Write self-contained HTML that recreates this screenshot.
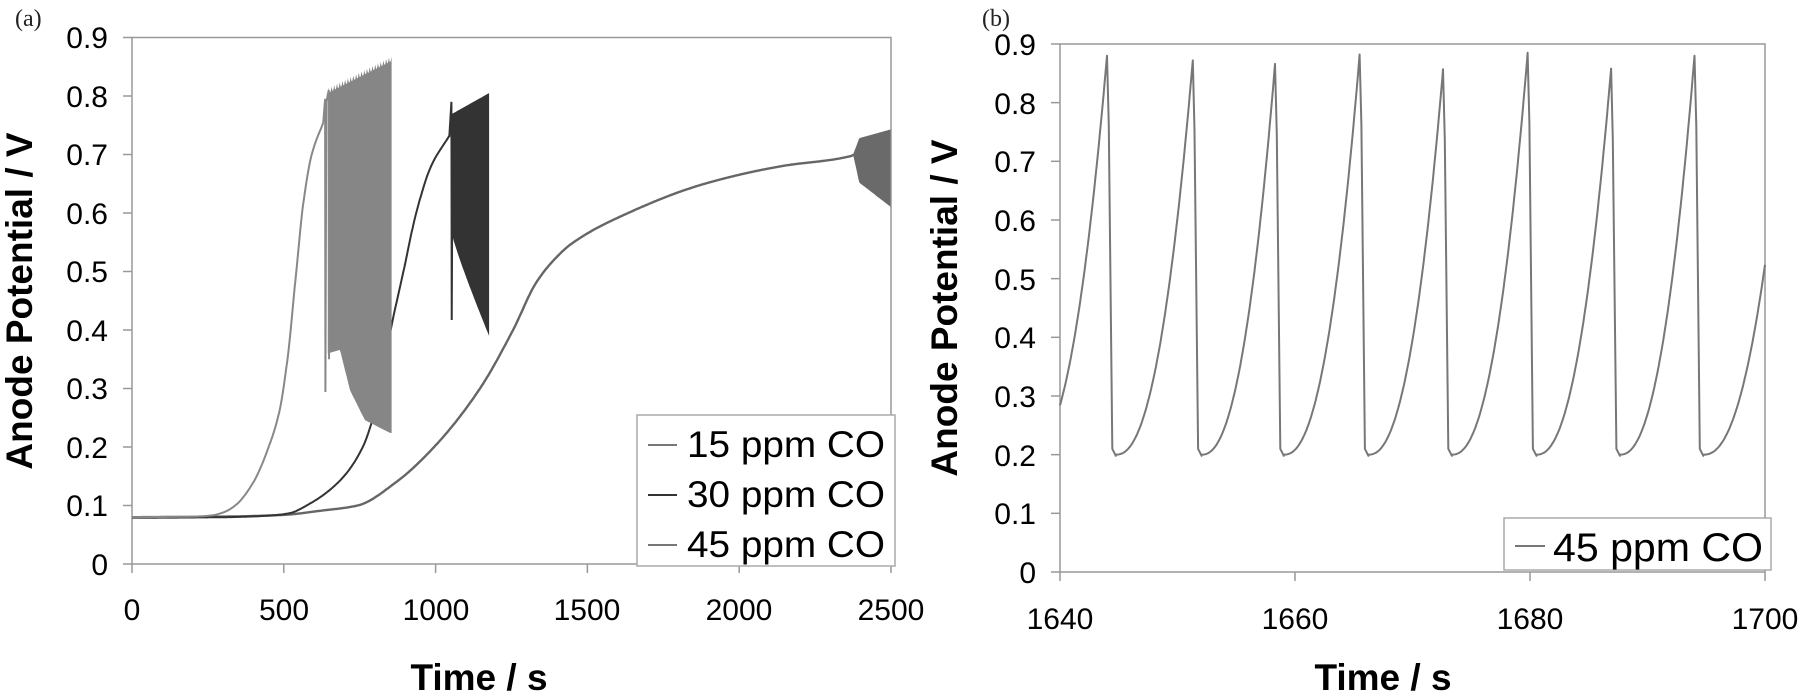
<!DOCTYPE html>
<html><head><meta charset="utf-8"><style>
html,body{margin:0;padding:0;background:#fff;}
svg{display:block;font-family:"Liberation Sans",Arial,sans-serif;}
</style></head><body>
<svg id="s" width="1800" height="695" viewBox="0 0 1800 695" xmlns="http://www.w3.org/2000/svg">
<rect width="1800" height="695" fill="#fff"/>
<text x="15" y="26" font-family="Liberation Serif,serif" font-size="24" fill="#222">(a)</text>
<text x="982" y="26" font-family="Liberation Serif,serif" font-size="24" fill="#222">(b)</text>
<g stroke="#999" stroke-width="1.5" fill="none">
<rect x="132" y="37.5" width="759" height="526.5"/>
<rect x="1060" y="44" width="705" height="528"/>
</g>
<g id="ticks" stroke="#999" stroke-width="1.5"></g>
<g id="series"></g>
<g font-size="30" fill="#000" text-anchor="end">
<text x="108" y="48">0.9</text><text x="108" y="107">0.8</text><text x="108" y="165">0.7</text><text x="108" y="224">0.6</text><text x="108" y="282">0.5</text><text x="108" y="341">0.4</text><text x="108" y="399">0.3</text><text x="108" y="458">0.2</text><text x="108" y="516">0.1</text><text x="108" y="575">0</text>
<text x="1036" y="55">0.9</text><text x="1036" y="114">0.8</text><text x="1036" y="172">0.7</text><text x="1036" y="231">0.6</text><text x="1036" y="290">0.5</text><text x="1036" y="348">0.4</text><text x="1036" y="407">0.3</text><text x="1036" y="466">0.2</text><text x="1036" y="524">0.1</text><text x="1036" y="583">0</text>
</g>
<g font-size="30" fill="#000" text-anchor="middle">
<text x="132" y="620">0</text><text x="284" y="620">500</text><text x="436" y="620">1000</text><text x="587" y="620">1500</text><text x="739" y="620">2000</text><text x="891" y="620">2500</text>
<text x="1060" y="629">1640</text><text x="1295" y="629">1660</text><text x="1530" y="629">1680</text><text x="1765" y="629">1700</text>
</g>
<g font-size="37" font-weight="bold" fill="#000" text-anchor="middle">
<text x="479" y="690">Time / s</text>
<text x="1383" y="690">Time / s</text>
<text transform="translate(32,301) rotate(-90)">Anode Potential / V</text>
<text transform="translate(957,308) rotate(-90)">Anode Potential / V</text>
</g>
<rect x="637" y="415" width="258" height="151" fill="#fff" stroke="#aaa" stroke-width="1.5"/>
<line x1="648" y1="445" x2="677" y2="445" stroke="#777" stroke-width="2"/>
<line x1="648" y1="495" x2="677" y2="495" stroke="#333" stroke-width="2"/>
<line x1="648" y1="545" x2="677" y2="545" stroke="#777" stroke-width="2"/>
<g font-size="37" fill="#000">
<text x="687" y="457" textLength="198" lengthAdjust="spacingAndGlyphs">15 ppm CO</text>
<text x="687" y="507" textLength="198" lengthAdjust="spacingAndGlyphs">30 ppm CO</text>
<text x="687" y="557" textLength="198" lengthAdjust="spacingAndGlyphs">45 ppm CO</text>
</g>
<rect x="1504" y="518" width="267" height="52" fill="#fff" stroke="#aaa" stroke-width="1.5"/>
<line x1="1515" y1="546" x2="1545" y2="546" stroke="#777" stroke-width="2"/>
<text x="1553" y="561" font-size="40" fill="#000" textLength="210" lengthAdjust="spacingAndGlyphs">45 ppm CO</text>
</svg>
<script>
var NS="http://www.w3.org/2000/svg";
function el(tag,at,parent){var e=document.createElementNS(NS,tag);for(var k in at)e.setAttribute(k,at[k]);(parent||document.getElementById('series')).appendChild(e);return e;}
var T=document.getElementById('ticks');
for(var i=0;i<=9;i++){var y=564-i*58.5;el('line',{x1:123,y1:y,x2:132,y2:y},T);}
for(var i=0;i<=5;i++){var x=132+i*151.8;el('line',{x1:x,y1:564,x2:x,y2:573},T);}
for(var i=0;i<=9;i++){var y=572-i*58.67;el('line',{x1:1051,y1:y,x2:1060,y2:y},T);}
for(var i=0;i<=3;i++){var x=1060+i*235;el('line',{x1:x,y1:572,x2:x,y2:581},T);}
function AX(t){return 132+t*0.30363;} function AY(v){return 564-v*585;}
function BX(t){return 1060+(t-1640)*11.75;} function BY(v){return 572-v*586.7;}
function pstr(pts){return pts.map(function(p){return p[0].toFixed(1)+","+p[1].toFixed(1);}).join(" ");}
// monotone cubic hermite
function mono(P,step){
 var n=P.length,d=[],m=[];
 for(var i=0;i<n-1;i++)d.push((P[i+1][1]-P[i][1])/(P[i+1][0]-P[i][0]));
 m[0]=d[0];m[n-1]=d[n-2];
 for(var i=1;i<n-1;i++){if(d[i-1]*d[i]<=0)m[i]=0;else{var h0=P[i][0]-P[i-1][0],h1=P[i+1][0]-P[i][0];var w1=2*h1+h0,w2=h1+2*h0;m[i]=(w1+w2)/(w1/d[i-1]+w2/d[i]);}}
 var out=[];
 for(var i=0;i<n-1;i++){var x0=P[i][0],x1=P[i+1][0],h=x1-x0;
  for(var x=x0;x<x1;x+=step){var s=(x-x0)/h,s2=s*s,s3=s2*s;
   var y=(2*s3-3*s2+1)*P[i][1]+(s3-2*s2+s)*h*m[i]+(-2*s3+3*s2)*P[i+1][1]+(s3-s2)*h*m[i+1];
   out.push([AX(x),AY(y)]);}}
 out.push([AX(P[n-1][0]),AY(P[n-1][1])]);return out;}
// 15 ppm
el('polyline',{points:pstr(mono([[0,0.08],[300,0.081],[500,0.084],[620,0.091],[743,0.1],[870,0.14],[995,0.2],[1146,0.3],[1255,0.4],[1330,0.48],[1390,0.52],[1449,0.548],[1634,0.6],[1886,0.65],[2138,0.68],[2365,0.697],[2380,0.7]],3)),fill:'none',stroke:'#666','stroke-width':2.4});
var up=[],lo=[];
for(var t=2375;t<=2500;t+=3){var f=Math.min(1,(t-2375)/20);up.push([AX(t),AY(0.7+0.025*f+0.018*(t-2375)/125)]);lo.push([AX(t),AY(0.7-0.04*f-0.05*(t-2375)/125)]);}
el('polygon',{points:pstr(up.concat(lo.reverse())),fill:'#6a6a6a'});
// 30 ppm
el('polyline',{points:pstr(mono([[0,0.079],[300,0.08],[460,0.083],[520,0.087],[575,0.1],[680,0.14],[760,0.2],[818,0.3],[852,0.4],[894,0.5],[936,0.6],[985,0.68],[1045,0.732]],3)),fill:'none',stroke:'#333','stroke-width':2});
var up=[],lo=[];
for(var t=1056;t<=1176;t+=4){var f=(t-1056)/120;up.push([AX(t),AY(0.77+0.035*f)]);lo.push([AX(t),AY(0.56-0.17*Math.pow(f,0.9))]);}
el('polygon',{points:pstr(up.concat(lo.reverse())),fill:'#333'});
el('polyline',{points:[AX(1045),AY(0.73),AX(1052),AY(0.79),AX(1053),AY(0.417),AX(1056),AY(0.77)].join(" "),fill:'none',stroke:'#333','stroke-width':2});
// 45 ppm
el('polyline',{points:pstr(mono([[0,0.08],[200,0.081],[262,0.083],[300,0.088],[340,0.1],[400,0.14],[450,0.2],[485,0.26],[512,0.35],[541,0.5],[565,0.62],[592,0.7],[630,0.755]],2)),fill:'none',stroke:'#888','stroke-width':2});
var up=[],lo=[];
var lopts=[[645,0.36],[685,0.366],[718,0.297],[767,0.246],[850,0.224]];
function interp(arr,t){if(t<=arr[0][0])return arr[0][1];for(var i=0;i<arr.length-1;i++){if(t<=arr[i+1][0]){var f=(t-arr[i][0])/(arr[i+1][0]-arr[i][0]);return arr[i][1]+f*(arr[i+1][1]-arr[i][1]);}}return arr[arr.length-1][1];}
for(var t=645;t<=856;t+=3){var f=(t-645)/211;up.push([AX(t),AY(0.805+0.055*f+(t%9==0?0.008:0))]);lo.push([AX(t),AY(interp(lopts,t))]);}
el('polygon',{points:pstr(up.concat(lo.reverse())),fill:'#868686'});
el('polyline',{points:[AX(630),AY(0.755),AX(636),AY(0.795),AX(637),AY(0.294),AX(640),AY(0.79),AX(648),AY(0.81),AX(649),AY(0.35)].join(" "),fill:'none',stroke:'#888','stroke-width':2});
// right panel sawtooth
var peaks=[[1644.0,0.88],[1651.3,0.872],[1658.3,0.866],[1665.5,0.882],[1672.6,0.857],[1679.8,0.885],[1686.9,0.858],[1694.0,0.88],[1702.0,0.88]];
var pts=[];var prevMin=1637.3;
for(var k=0;k<peaks.length;k++){var tp=peaks[k][0],vp=peaks[k][1];var Tr=tp-prevMin;var pw=2.3;
 for(var t=Math.max(prevMin,1640);t<tp;t+=0.1){if(t>1700)break;var s=(t-prevMin)/Tr;pts.push([BX(t),BY(0.2+(vp-0.2)*Math.pow(s,pw))]);}
 if(tp>1700){var s=(1700-prevMin)/Tr;pts.push([BX(1700),BY(0.2+(vp-0.2)*Math.pow(s,pw))]);break;}
 pts.push([BX(tp),BY(vp)]);pts.push([BX(tp+0.15),BY(vp-0.12)]);pts.push([BX(tp+0.45),BY(0.21)]);pts.push([BX(tp+0.75),BY(0.198)]);
 prevMin=tp+0.75;}
el('polyline',{points:pstr(pts),fill:'none',stroke:'#777','stroke-width':2,'stroke-linejoin':'round'});
</script>
</body></html>
